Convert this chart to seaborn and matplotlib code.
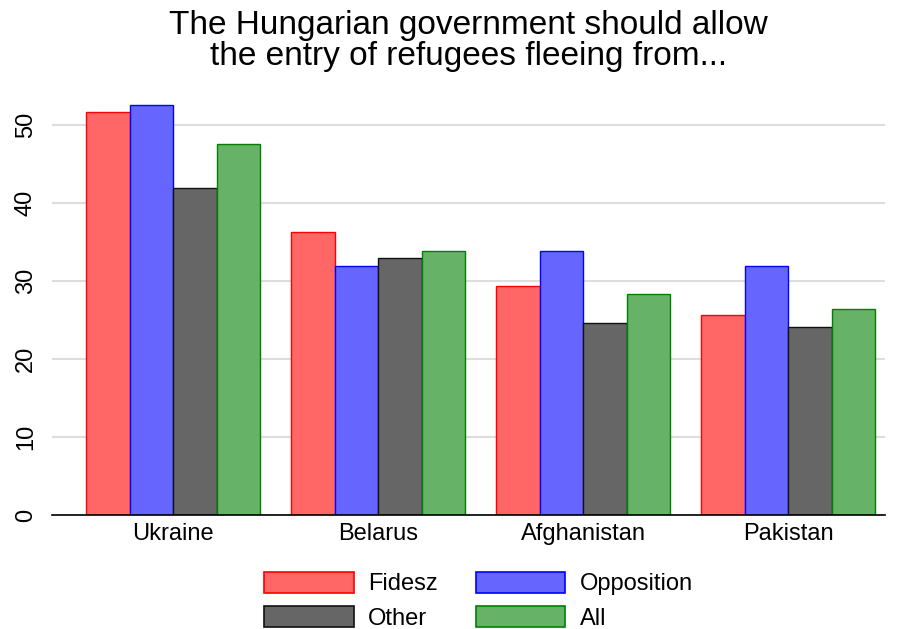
import pandas as pd
import numpy as np
from matplotlib import pyplot as plt
from matplotlib.patches import Patch
import seaborn as sns

countries = ['Ukraine', 'Belarus', 'Afghanistan', 'Pakistan']
groups = ['Fidesz', 'Opposition', 'Other', 'All']
fidesz = [51.6, 36.3, 29.4, 25.6]
opposition = [52.6, 31.9, 33.8, 31.9]
other = [41.9, 33.0, 24.6, 24.1]
all_resp = [47.6, 33.9, 28.4, 26.4]

fills = ['#FF6666', '#6666FF', '#666666', '#66B266']
edges = ['#FF0000', '#0000FF', '#111111', '#008000']

df = pd.DataFrame({
    'country': countries * 4,
    'group': np.repeat(groups, 4),
    'value': fidesz + opposition + other + all_resp,
})

sns.set_style('white')
plt.rcParams['font.family'] = ['Liberation Sans', 'DejaVu Sans']
plt.rcParams['text.color'] = 'black'
plt.rcParams['xtick.color'] = 'black'
plt.rcParams['ytick.color'] = 'black'

fig = plt.figure(figsize=(8.99, 6.29), dpi=100)
ax = fig.add_axes([0.058, 0.181, 0.926, 0.670])

sns.barplot(data=df, x='country', y='value', hue='group', order=countries,
            hue_order=groups, palette=fills, saturation=1, width=0.85, ax=ax,
            legend=False)

# edge colours per series
for cont, ec in zip(ax.containers, edges):
    for bar in cont:
        bar.set_edgecolor(ec)
        bar.set_linewidth(1.0)

ax.set_xlim(-0.59, 3.47)
ax.set_ylim(0, 54)
ax.set_yticks([0, 10, 20, 30, 40, 50])
ax.yaxis.grid(True, color='#dddddd', linewidth=1.5)
ax.set_axisbelow(True)
for s in ['top', 'right', 'left']:
    ax.spines[s].set_visible(False)
ax.spines['bottom'].set_color('black')
ax.spines['bottom'].set_linewidth(1.2)
ax.tick_params(axis='y', length=8, width=1.2, labelsize=17, pad=3)
ax.tick_params(axis='x', length=0, labelsize=17, pad=6)
for lab in ax.get_yticklabels():
    lab.set_rotation(90)
    lab.set_va('center')
ax.set_xlabel('')
ax.set_ylabel('')

ax.set_title('The Hungarian government should allow\nthe entry of refugees fleeing from...',
             fontsize=24, linespacing=1.0, pad=21)

# matplotlib fills legend column-wise, reorder so rows read Fidesz/Opposition, Other/All
order = [0, 2, 1, 3]
handles = [Patch(facecolor=fills[i], edgecolor=edges[i], linewidth=1.2) for i in order]
labels = [groups[i] for i in order]
fig.legend(handles, labels, ncol=2, loc='lower center', bbox_to_anchor=(0.532, -0.035),
           frameon=False, fontsize=17, handlelength=3.8, handleheight=1.0,
           columnspacing=1.62, labelspacing=0.45, handletextpad=0.6)

fig.savefig('out.png', dpi=100)
